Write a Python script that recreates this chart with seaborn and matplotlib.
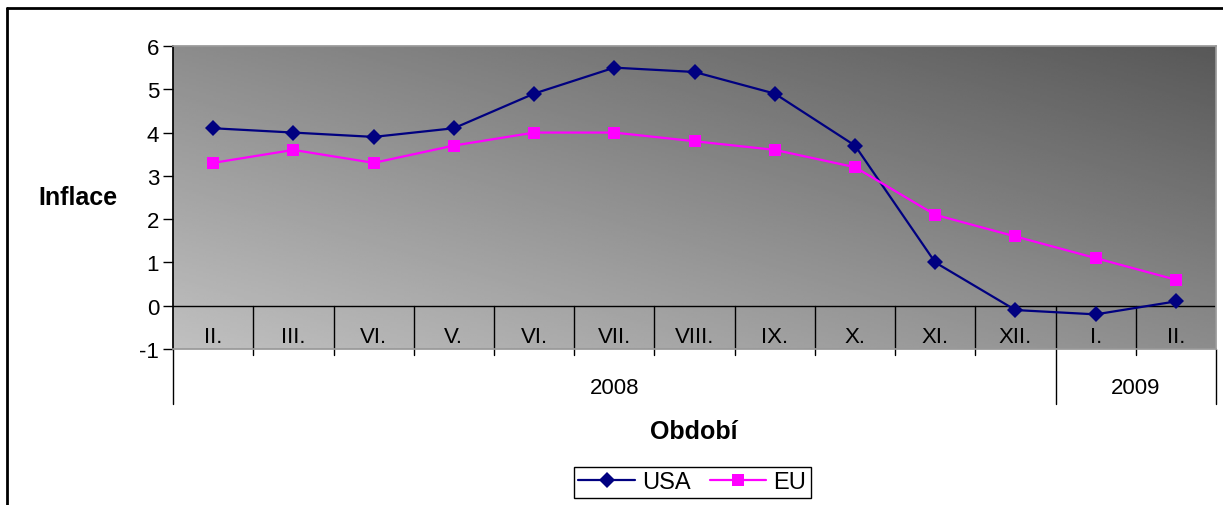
import numpy as np
import pandas as pd
import seaborn as sns
import matplotlib.pyplot as plt
from matplotlib.lines import Line2D

# data
months = ["II.", "III.", "VI.", "V.", "VI.", "VII.", "VIII.", "IX.", "X.", "XI.", "XII.", "I.", "II."]
years = ["2008", "2009"]
year_counts = [11, 2]
usa = [4.1, 4.0, 3.9, 4.1, 4.9, 5.5, 5.4, 4.9, 3.7, 1.0, -0.1, -0.2, 0.1]
eu = [3.3, 3.6, 3.3, 3.7, 4.0, 4.0, 3.8, 3.6, 3.2, 2.1, 1.6, 1.1, 0.6]

df = pd.DataFrame({"pos": range(len(months)), "USA": usa, "EU": eu})
df = df.melt(id_vars="pos", var_name="series", value_name="Inflace")

sns.set_theme(style="white")
plt.rcParams["font.family"] = ["Liberation Sans", "DejaVu Sans"]
plt.rcParams["axes.unicode_minus"] = False
for key in ["text.color", "axes.labelcolor", "xtick.color", "ytick.color"]:
    plt.rcParams[key] = "black"

fig = plt.figure(figsize=(12.23, 5.06), dpi=100)
ax = fig.add_axes([0.1415, 0.3083, 0.8528, 0.5988])

n = len(months)
ymin, ymax = -1, 6

# gradient plot area (light bottom-left, dark top-right)
u, v = np.meshgrid(np.linspace(0, 1, 300), np.linspace(0, 1, 150))
shade = (192 - 52 * u - 52 * v) / 255
ax.imshow(shade, cmap="gray", vmin=0, vmax=1, origin="lower",
          extent=(-0.5, n - 0.5, ymin, ymax), aspect="auto", zorder=0)

sns.lineplot(data=df, x="pos", y="Inflace", hue="series", style="series",
             palette={"USA": "#000080", "EU": "#FF00FF"},
             markers={"USA": "D", "EU": "s"}, dashes=False,
             markersize=8, markeredgewidth=0, linewidth=1.6,
             legend=False, ax=ax, zorder=3)

ax.set_xlim(-0.5, n - 0.5)
ax.set_ylim(ymin, ymax)
ax.set_xticks([])
ax.set_yticks(range(ymin, ymax + 1))
ax.tick_params(axis="y", left=True, direction="out", length=7, width=1,
               color="black", labelsize=16, pad=3)

for side in ["top", "right", "bottom"]:
    ax.spines[side].set_color("#999999")
ax.spines["left"].set_color("black")
ax.axhline(0, color="black", lw=1, zorder=2)

# category labels inside the band between 0 and -1
for i, m in enumerate(months):
    ax.text(i, -0.7, m, ha="center", va="center", fontsize=16)

# separators and year groups
bounds = np.cumsum(year_counts) - 0.5
for k in range(n - 1):
    x = k + 0.5
    bottom = -2.28 if x in bounds else -1.15
    ax.plot([x, x], [0, bottom], color="black", lw=1, clip_on=False, zorder=2)
ax.plot([-0.5, -0.5], [ymin, -2.28], color="black", lw=1, clip_on=False)
ax.plot([n - 0.5, n - 0.5], [ymin, -2.28], color="black", lw=1, clip_on=False)

start = -0.5
for yr, cnt in zip(years, year_counts):
    ax.text(start + cnt / 2, -1.89, yr, ha="center", va="center",
            fontsize=16, clip_on=False)
    start += cnt

ax.set_xlabel("Období", fontsize=18, fontweight="bold")
ax.xaxis.set_label_coords(0.4995, -0.231)
ax.set_ylabel("Inflace", fontsize=18, fontweight="bold", rotation=0,
              ha="center", va="center")
ax.yaxis.set_label_coords(-0.091, 0.502)

fig.legend(handles=ax.lines[:2], labels=["USA", "EU"], ncol=2,
           loc="center", bbox_to_anchor=(0.566, 0.045), fontsize=17,
           frameon=True, fancybox=False, edgecolor="black", framealpha=1,
           handlelength=2.4, columnspacing=0.8, handletextpad=0.3,
           borderpad=0.2)

# outer chart frame
fig.add_artist(Line2D([7 / 1223, 7 / 1223], [0, 1 - 9 / 506],
                      transform=fig.transFigure, color="black", lw=2))
fig.add_artist(Line2D([7 / 1223, 1], [1 - 9 / 506, 1 - 9 / 506],
                      transform=fig.transFigure, color="black", lw=2))

fig.savefig("out.png", dpi=100)
